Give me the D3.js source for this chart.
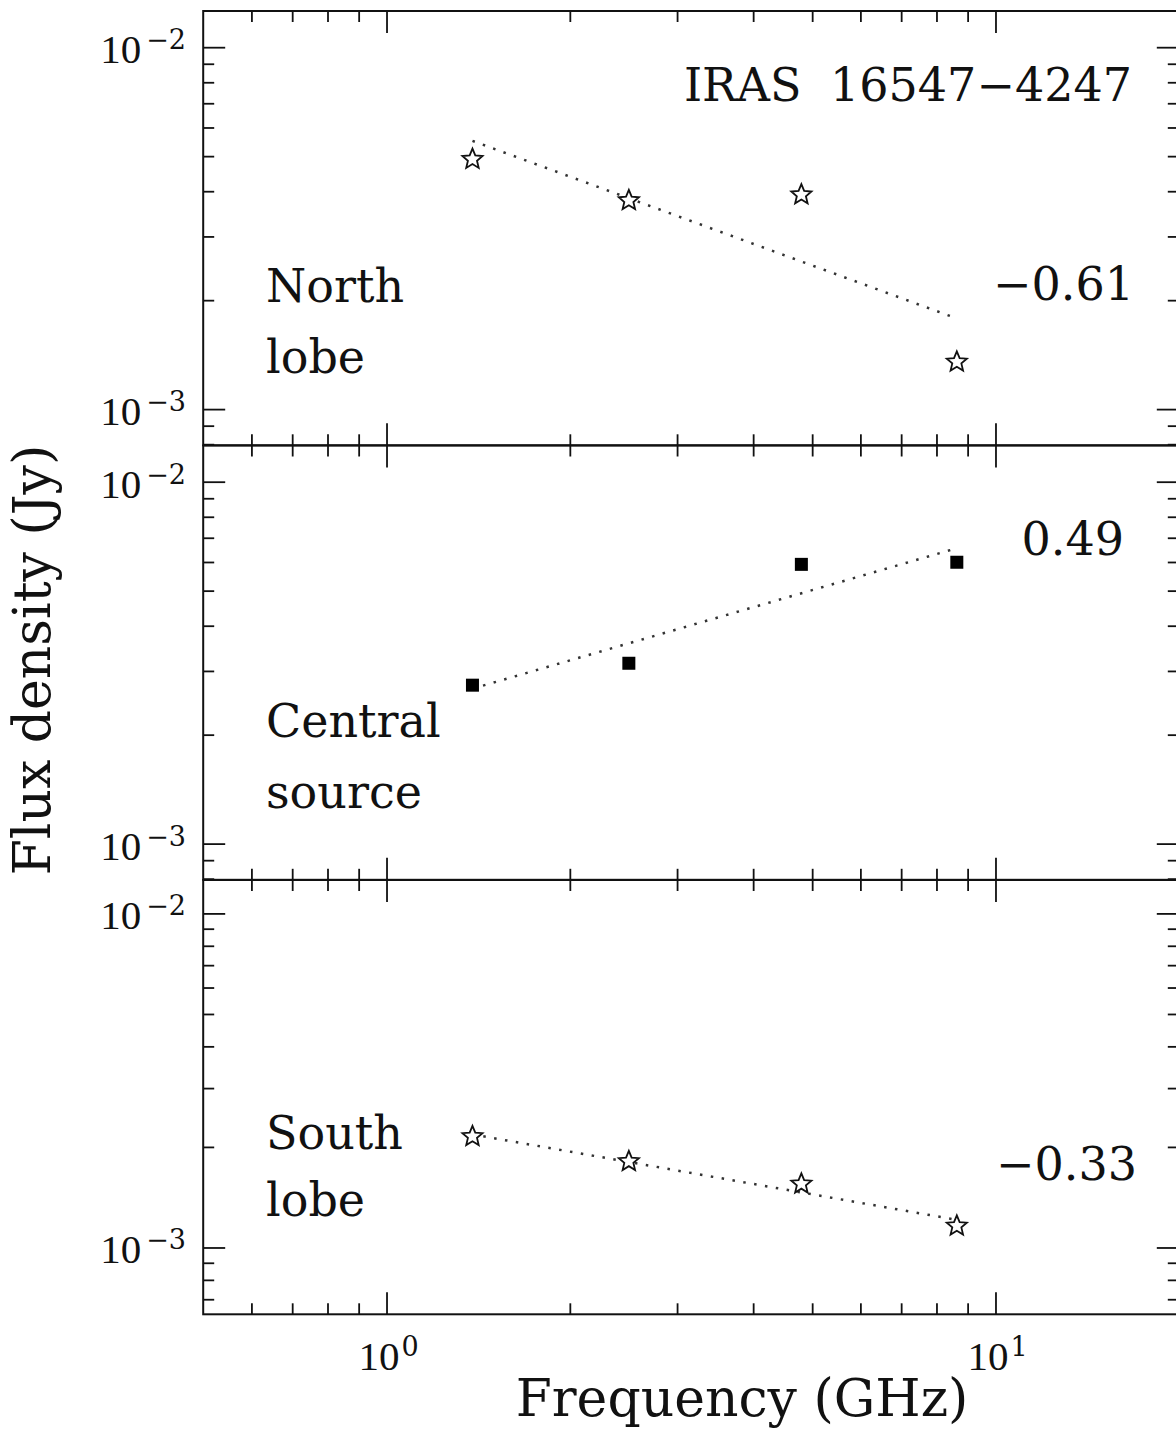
<!DOCTYPE html>
<html>
<head>
<meta charset="utf-8">
<script src="https://cdn.jsdelivr.net/npm/d3@7"></script>
<style>
  html, body { margin: 0; padding: 0; background: #fff; }
  svg { display: block; }
  text { font-family: "DejaVu Serif", serif; fill: #111; }
  .num { font-family: "Liberation Serif", serif; }
  .sup { font-family: "DejaVu Serif", serif; }
</style>
</head>
<body>
<svg id="chart" width="1176" height="1435"></svg>
<script>
// === DATA ===
const freqs = [1.384, 2.5, 4.8, 8.64];            // GHz
const northFlux = [0.00490, 0.00377, 0.00391, 0.00135];
const centralFlux = [0.00274, 0.00315, 0.00591, 0.00599];
const southFlux = [0.00215, 0.00181, 0.00155, 0.00116];

// fitted power laws, read at the two end frequencies
const fitFreqs = [1.384, 8.64];
const northFit = [0.00551, 0.00178];
const centralFit = [0.00268, 0.00655];
const southFit = [0.00218, 0.00121];

const spectralIndex = ["\u22120.61", "0.49", "\u22120.33"];
const panelNames = [["North", "lobe"], ["Central", "source"], ["South", "lobe"]];
const markerKind = ["star", "square", "star"];
const yDomains = [[Math.pow(10, -3.1), Math.pow(10, -1.9)],
                  [Math.pow(10, -3.1), Math.pow(10, -1.9)],
                  [Math.pow(10, -3.2), Math.pow(10, -1.9)]];
const xDomain = [0.5, 20];
const xMajor = [1, 10];
const xMinor = [0.6, 0.7, 0.8, 0.9, 2, 3, 4, 5, 6, 7, 8, 9];
const xTickExp = ["0", "1"];
const title = "IRAS 16547\u22124247";
const xTitle = "Frequency (GHz)";
const yTitle = "Flux density (Jy)";

const series = [
  {flux: northFlux, fit: northFit},
  {flux: centralFlux, fit: centralFit},
  {flux: southFlux, fit: southFit}
];

// === LAYOUT ===
const left = 203.2, right = 1178.8;
const panelTops = [11, 445.5, 880];
const panelH = 434.3;
const majorLen = 22, minorLen = 11;
// label placement (offsets from panel top)
const nameX = 266;
const nameBase = [291, 291, 269];
const lineGap = [71, 71, 67];
const indexPos = [{x: 1134, y: 300}, {x: 1124, y: 555}, {x: 1137, y: 1180}];

const svg = d3.select("#chart");
const x = d3.scaleLog().domain(xDomain).range([left, right]);

// === HELPERS ===
function starPath(R, ratio) {
  const pts = [];
  for (let i = 0; i < 10; i++) {
    const r = i % 2 === 0 ? R : R * ratio;
    const a = -Math.PI / 2 + i * Math.PI / 5;
    pts.push([r * Math.cos(a), r * Math.sin(a)]);
  }
  return "M" + pts.map(p => p[0].toFixed(2) + "," + p[1].toFixed(2)).join("L") + "Z";
}

function yTicks(dom) {
  const lo = Math.floor(Math.log10(dom[0])), hi = Math.ceil(Math.log10(dom[1]));
  const major = [], minor = [];
  for (let e = lo; e <= hi; e++) {
    for (let d = 1; d <= 9; d++) {
      const v = d * Math.pow(10, e);
      if (v < dom[0] * 1.0001 || v > dom[1] * 0.9999) continue;
      (d === 1 ? major : minor).push(v);
    }
  }
  return {major, minor};
}

function styleAxis(g) {
  g.select(".domain").remove();
  g.selectAll(".tick line").attr("stroke", "#111").attr("stroke-width", 1.8);
  g.selectAll(".tick text").remove();
}

// === PANELS ===
series.forEach((s, i) => {
  const top = panelTops[i], bottom = top + panelH;
  const y = d3.scaleLog().domain(yDomains[i]).range([bottom, top]);
  const g = svg.append("g");
  const ticks = yTicks(yDomains[i]);

  // ticks on all four sides, pointing inward
  [[majorLen, ticks.major], [minorLen, ticks.minor]].forEach(([len, vals]) => {
    g.append("g").attr("transform", `translate(${left},0)`)
      .call(d3.axisLeft(y).tickValues(vals).tickSizeInner(-len).tickSizeOuter(0)).call(styleAxis);
    g.append("g").attr("transform", `translate(${right},0)`)
      .call(d3.axisRight(y).tickValues(vals).tickSizeInner(-len).tickSizeOuter(0)).call(styleAxis);
  });
  [[majorLen, xMajor], [minorLen, xMinor]].forEach(([len, vals]) => {
    g.append("g").attr("transform", `translate(0,${top})`)
      .call(d3.axisTop(x).tickValues(vals).tickSizeInner(-len).tickSizeOuter(0)).call(styleAxis);
    g.append("g").attr("transform", `translate(0,${bottom})`)
      .call(d3.axisBottom(x).tickValues(vals).tickSizeInner(-len).tickSizeOuter(0)).call(styleAxis);
  });

  g.append("rect")
    .attr("x", left).attr("y", top)
    .attr("width", right - left).attr("height", panelH)
    .attr("fill", "none").attr("stroke", "#111").attr("stroke-width", 2);

  // y tick labels 10^n
  ticks.major.forEach(v => {
    const t = g.append("text").attr("class", "num")
      .attr("x", 186).attr("y", y(v) + 16)
      .attr("text-anchor", "end").attr("font-size", 41);
    t.append("tspan").text("10");
    t.append("tspan").attr("class", "sup").attr("dx", 5).attr("dy", -14).attr("font-size", 27)
      .text("\u2212" + Math.round(-Math.log10(v)));
  });

  // fit line
  const fitData = fitFreqs.map((f, k) => [f, s.fit[k]]);
  g.append("path")
    .datum(fitData)
    .attr("d", d3.line().x(d => x(d[0])).y(d => y(d[1])))
    .attr("fill", "none").attr("stroke", "#333")
    .attr("stroke-width", 2.5).attr("stroke-dasharray", "2.5,8.5");

  // markers
  const pts = freqs.map((f, k) => [f, s.flux[k]]);
  if (markerKind[i] === "star") {
    g.selectAll(".pt").data(pts).join("path")
      .attr("transform", d => `translate(${x(d[0])},${y(d[1])})`)
      .attr("d", starPath(10.6, 0.45))
      .attr("fill", "#fff").attr("stroke", "#111").attr("stroke-width", 1.8)
      .attr("stroke-linejoin", "miter");
  } else {
    g.selectAll(".pt").data(pts).join("rect")
      .attr("x", d => x(d[0]) - 6.5).attr("y", d => y(d[1]) - 6.5)
      .attr("width", 13).attr("height", 13)
      .attr("fill", "#000");
  }

  // source name
  panelNames[i].forEach((w, k) => {
    g.append("text").attr("x", nameX).attr("y", top + nameBase[i] + k * lineGap[i])
      .attr("font-size", 46).text(w);
  });

  // spectral index
  g.append("text").attr("x", indexPos[i].x).attr("y", indexPos[i].y)
    .attr("text-anchor", "end").attr("font-size", 46).text(spectralIndex[i]);
});

// === TITLE & AXIS LABELS ===
svg.append("text").attr("x", 1132).attr("y", 101)
  .attr("text-anchor", "end").attr("font-size", 46).attr("word-spacing", 14)
  .text(title);

const lastBottom = panelTops[2] + panelH;
xMajor.forEach((v, k) => {
  const t = svg.append("text").attr("class", "num")
    .attr("x", x(v) + 2).attr("y", lastBottom + 56)
    .attr("text-anchor", "middle").attr("font-size", 41);
  t.append("tspan").text("10");
  t.append("tspan").attr("class", "sup").attr("dx", 2).attr("dy", -14).attr("font-size", 27).text(xTickExp[k]);
});

svg.append("text").attr("x", 742).attr("y", 1416)
  .attr("text-anchor", "middle").attr("font-size", 52).text(xTitle);

svg.append("text")
  .attr("transform", "translate(50,660) rotate(-90)")
  .attr("text-anchor", "middle").attr("font-size", 52).text(yTitle);
</script>
</body>
</html>
